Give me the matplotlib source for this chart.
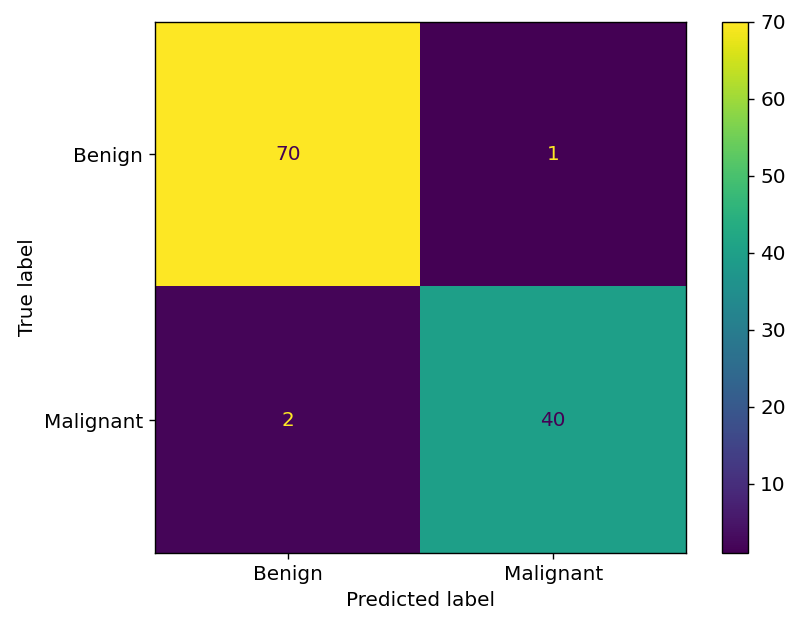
import matplotlib
import numpy as np

matplotlib.use("Agg")

from matplotlib import pyplot as plt  # noqa: E402

class_labels = ["Benign", "Malignant"]
confusion = np.array([[70, 1], [2, 40]])

plt.rcParams["font.size"] = 11.5

figure = plt.figure(figsize=(6.4, 5.024), dpi=125)
axis = figure.add_axes([155 / 800, 75 / 628, 531 / 800, 531.5 / 628])
cbar_axis = figure.add_axes([722 / 800, 75 / 628, 26 / 800, 531 / 628])

cmap = plt.get_cmap("viridis")
image = axis.imshow(confusion, cmap=cmap, interpolation="nearest", aspect="auto")
threshold = (confusion.max() + confusion.min()) / 2.0
for row in range(confusion.shape[0]):
    for col in range(confusion.shape[1]):
        value = confusion[row, col]
        color = cmap(0) if value > threshold else cmap(256)
        axis.text(col, row, f"{value}", ha="center", va="center", color=color)

axis.set_xticks(range(len(class_labels)), class_labels)
axis.set_yticks(range(len(class_labels)), class_labels)
axis.set_xlabel("Predicted label")
axis.set_ylabel("True label")
figure.colorbar(image, cax=cbar_axis)

figure.savefig("out.png", dpi=125)
plt.close(figure)
